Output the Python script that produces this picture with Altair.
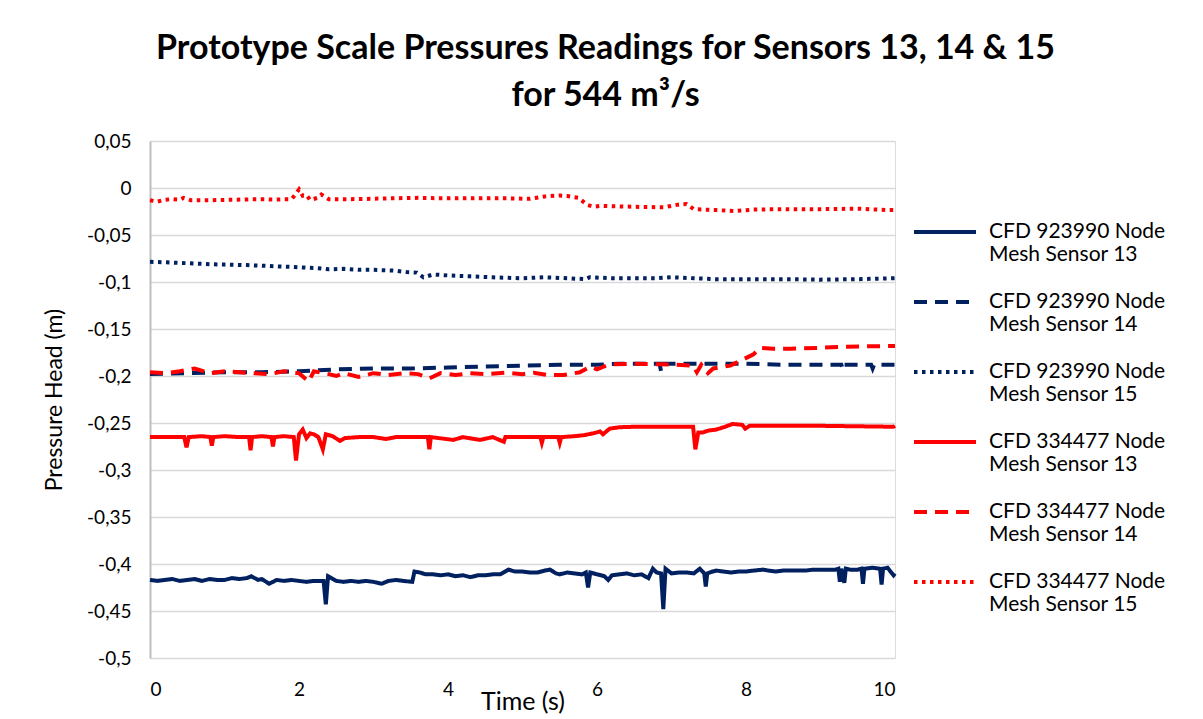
import altair as alt
import pandas as pd

# ---------------- data ----------------
SERIES = [
    "CFD 923990 Node Mesh Sensor 13",
    "CFD 923990 Node Mesh Sensor 14",
    "CFD 923990 Node Mesh Sensor 15",
    "CFD 334477 Node Mesh Sensor 13",
    "CFD 334477 Node Mesh Sensor 14",
    "CFD 334477 Node Mesh Sensor 15",
]
COLORS = ["#002060", "#002060", "#002060", "#FF0000", "#FF0000", "#FF0000"]

# CFD 923990 - Sensor 13 (navy solid)
t_b13 = [0, 0.1, 0.2, 0.3, 0.4, 0.5, 0.6, 0.7, 0.8, 0.9, 1.0, 1.1, 1.2, 1.3, 1.36, 1.45, 1.5, 1.6, 1.7, 1.8,
         1.9, 2.0, 2.1, 2.2, 2.33, 2.36, 2.39, 2.5, 2.6, 2.7, 2.8, 2.9, 3.0, 3.11, 3.2, 3.3, 3.4, 3.52, 3.55, 3.62,
         3.7, 3.8, 3.9, 4.0, 4.1, 4.2, 4.3, 4.4, 4.5, 4.6, 4.7, 4.81, 4.9, 5.0, 5.1, 5.2, 5.3, 5.37, 5.45, 5.5,
         5.6, 5.7, 5.8, 5.85, 5.88, 5.91, 6.0, 6.1, 6.15, 6.2, 6.3, 6.4, 6.5, 6.6, 6.69, 6.75, 6.8, 6.86, 6.89, 6.92,
         7.0, 7.1, 7.2, 7.3, 7.38, 7.44, 7.46, 7.48, 7.55, 7.6, 7.7, 7.8, 7.9, 8.0, 8.1, 8.23, 8.3, 8.4, 8.5, 8.6,
         8.7, 8.8, 8.9, 9.0, 9.1, 9.2, 9.24, 9.26, 9.28, 9.32, 9.34, 9.4, 9.5, 9.55, 9.57, 9.59, 9.7, 9.8, 9.82, 9.84,
         9.9, 9.98, 10.0]
v_b13 = [-0.417, -0.418, -0.417, -0.416, -0.418, -0.417, -0.416, -0.418, -0.416, -0.417, -0.417, -0.415, -0.416, -0.415, -0.413, -0.417, -0.416, -0.421, -0.417, -0.418,
         -0.417, -0.418, -0.419, -0.418, -0.418, -0.443, -0.413, -0.418, -0.419, -0.418, -0.419, -0.418, -0.419, -0.421, -0.418, -0.417, -0.418, -0.419, -0.408, -0.409,
         -0.411, -0.411, -0.412, -0.411, -0.413, -0.412, -0.414, -0.412, -0.412, -0.411, -0.411, -0.406, -0.408, -0.408, -0.409, -0.409, -0.407, -0.406, -0.410, -0.411,
         -0.409, -0.410, -0.411, -0.409, -0.425, -0.409, -0.411, -0.413, -0.417, -0.412, -0.411, -0.410, -0.412, -0.411, -0.415, -0.405, -0.409, -0.410, -0.448, -0.405,
         -0.410, -0.409, -0.409, -0.410, -0.405, -0.410, -0.424, -0.410, -0.408, -0.407, -0.408, -0.409, -0.408, -0.408, -0.407, -0.406, -0.407, -0.408, -0.407, -0.407,
         -0.407, -0.407, -0.406, -0.406, -0.406, -0.406, -0.405, -0.419, -0.405, -0.420, -0.405, -0.406, -0.406, -0.405, -0.421, -0.405, -0.404, -0.405, -0.422, -0.405,
         -0.404, -0.412, -0.410]

# CFD 923990 - Sensor 14 (navy dashed)
t_b14 = [0, 0.5, 1.0, 1.5, 2.0, 2.5, 3.0, 3.5, 4.0, 4.5, 5.0, 5.5, 6.0, 6.3, 6.84, 6.86, 6.88, 7.5, 8.0, 8.5,
         9.0, 9.28, 9.3, 9.32, 9.68, 9.7, 9.72, 10.0]
v_b14 = [-0.198, -0.197, -0.196, -0.196, -0.195, -0.193, -0.192, -0.192, -0.191, -0.190, -0.189, -0.188, -0.188, -0.187, -0.187, -0.195, -0.187, -0.187, -0.187, -0.188,
         -0.188, -0.188, -0.193, -0.188, -0.188, -0.192, -0.188, -0.188]

# CFD 923990 - Sensor 15 (navy dotted)
t_b15 = [0, 0.2, 0.5, 0.8, 1.0, 1.3, 1.6, 1.9, 2.2, 2.4, 2.6, 2.8, 3.0, 3.3, 3.45, 3.58, 3.67, 3.8, 4.0, 4.3,
         4.6, 5.0, 5.3, 5.6, 5.85, 5.9, 6.2, 6.5, 6.8, 7.0, 7.3, 7.6, 8.0, 8.5, 9.0, 9.5, 10.0]
v_b15 = [-0.0785, -0.079, -0.080, -0.081, -0.0815, -0.082, -0.083, -0.084, -0.085, -0.0865, -0.086, -0.087, -0.087, -0.088, -0.0895, -0.090, -0.095, -0.092, -0.093, -0.094,
         -0.095, -0.096, -0.095, -0.096, -0.097, -0.095, -0.096, -0.096, -0.096, -0.095, -0.096, -0.097, -0.097, -0.097, -0.0975, -0.097, -0.096]

# CFD 334477 - Sensor 13 (red solid)
t_r13 = [0, 0.2, 0.46, 0.49, 0.52, 0.7, 0.81, 0.83, 0.85, 1.0, 1.2, 1.33, 1.35, 1.37, 1.5, 1.63, 1.65, 1.67, 1.8, 1.93,
         1.96, 2.0, 2.05, 2.1, 2.15, 2.2, 2.26, 2.32, 2.36, 2.45, 2.55, 2.62, 2.8, 3.0, 3.17, 3.3, 3.5, 3.73, 3.75, 3.77,
         4.07, 4.2, 4.43, 4.6, 4.75, 4.77, 5.0, 5.24, 5.26, 5.28, 5.48, 5.5, 5.52, 5.7, 5.82, 5.95, 6.04, 6.08, 6.17, 6.3,
         6.5, 7.0, 7.29, 7.32, 7.36, 7.42, 7.5, 7.6, 7.72, 7.82, 7.95, 7.99, 8.05, 8.5, 9.0, 9.5, 9.98, 10.0]
v_r13 = [-0.265, -0.265, -0.265, -0.276, -0.265, -0.264, -0.265, -0.274, -0.265, -0.264, -0.265, -0.265, -0.279, -0.265, -0.264, -0.265, -0.275, -0.265, -0.264, -0.265,
         -0.290, -0.262, -0.257, -0.266, -0.261, -0.262, -0.265, -0.278, -0.262, -0.264, -0.269, -0.266, -0.265, -0.265, -0.267, -0.265, -0.265, -0.265, -0.278, -0.265,
         -0.268, -0.265, -0.268, -0.265, -0.270, -0.265, -0.265, -0.265, -0.271, -0.265, -0.265, -0.271, -0.265, -0.264, -0.263, -0.261, -0.259, -0.262, -0.256, -0.2545,
         -0.254, -0.254, -0.254, -0.278, -0.260, -0.260, -0.258, -0.257, -0.254, -0.251, -0.252, -0.256, -0.253, -0.253, -0.253, -0.2535, -0.254, -0.253]

# CFD 334477 - Sensor 14 (red dashed)
t_r14 = [0, 0.2, 0.4, 0.6, 0.8, 1.0, 1.2, 1.4, 1.6, 1.8, 2.0, 2.13, 2.2, 2.4, 2.5, 2.6, 2.8, 3.0, 3.2, 3.4,
         3.6, 3.75, 3.9, 4.1, 4.3, 4.5, 4.77, 5.0, 5.15, 5.35, 5.55, 5.7, 5.77, 5.91, 6.0, 6.17, 6.5, 6.85, 7.07, 7.29,
         7.34, 7.4, 7.49, 7.56, 7.7, 7.79, 7.92, 8.1, 8.19, 8.37, 8.6, 9.0, 9.3, 9.6, 10.0]
v_r14 = [-0.196, -0.197, -0.195, -0.192, -0.197, -0.195, -0.196, -0.197, -0.198, -0.195, -0.197, -0.206, -0.195, -0.198, -0.200, -0.197, -0.201, -0.197, -0.199, -0.197,
         -0.198, -0.2025, -0.197, -0.199, -0.197, -0.198, -0.1965, -0.198, -0.1965, -0.199, -0.199, -0.197, -0.196, -0.190, -0.193, -0.1875, -0.187, -0.1875, -0.188, -0.189,
         -0.196, -0.188, -0.197, -0.192, -0.190, -0.189, -0.184, -0.177, -0.170, -0.171, -0.171, -0.170, -0.169, -0.1685, -0.168]

# CFD 334477 - Sensor 15 (red dotted)
t_r15 = [0, 0.1, 0.2, 0.3, 0.4, 0.45, 0.55, 0.8, 1.1, 1.4, 1.7, 1.9, 1.95, 2.0, 2.05, 2.1, 2.15, 2.25, 2.3, 2.4,
         2.8, 3.2, 3.6, 4.0, 4.4, 4.8, 5.1, 5.3, 5.5, 5.6, 5.75, 5.87, 5.96, 6.05, 6.5, 6.9, 7.1, 7.2, 7.3, 7.6,
         7.85, 8.1, 8.5, 9.0, 9.5, 9.9, 10.0]
v_r15 = [-0.013, -0.0145, -0.0125, -0.0118, -0.0125, -0.0105, -0.013, -0.013, -0.0125, -0.012, -0.0122, -0.0118, -0.007, -0.0015, -0.0082, -0.0075, -0.0128, -0.0105, -0.007, -0.012,
         -0.0118, -0.011, -0.0105, -0.011, -0.011, -0.011, -0.0115, -0.009, -0.008, -0.0085, -0.0105, -0.018, -0.020, -0.019, -0.020, -0.0205, -0.0175, -0.017, -0.0225, -0.0235,
         -0.0245, -0.023, -0.0225, -0.0225, -0.022, -0.0235, -0.0235]

Y_TICKS = [0.05, 0, -0.05, -0.1, -0.15, -0.2, -0.25, -0.3, -0.35, -0.4, -0.45, -0.5]
X_TICKS = [0, 2, 4, 6, 8, 10]
TITLE = ["Prototype Scale Pressures Readings for Sensors 13, 14 & 15", "for 544 m\u00b3/s"]

# ---------------- build table ----------------
pairs = [(t_b13, v_b13), (t_b14, v_b14), (t_b15, v_b15), (t_r13, v_r13), (t_r14, v_r14), (t_r15, v_r15)]
rows = []
for name, (ts, vs) in zip(SERIES, pairs):
    for t, v in zip(ts, vs):
        rows.append({"series": name, "time": t, "value": v})
df = pd.DataFrame(rows)

DASHES = [[1, 0], [13, 8], [3.5, 4.5], [1, 0], [13, 8], [3.5, 4.5]]

FONT = "Lato"
legend = alt.Legend(
    orient="none", legendX=762, legendY=58, title=None,
    symbolType="stroke", symbolSize=3844, symbolStrokeWidth=4,
    labelFont=FONT, labelFontSize=21, labelColor="#000000", labelLimit=400,
    labelOffset=11, rowPadding=4,
    labelExpr="[slice(datum.label, 0, 15), slice(datum.label, 16)]",
)

chart = alt.Chart(df).mark_line(strokeWidth=4, strokeCap="butt").encode(
    x=alt.X("time:Q", scale=alt.Scale(domain=[0, 10], nice=False),
            axis=alt.Axis(values=X_TICKS, title="Time (s)", grid=False, domain=False, ticks=False,
                          labelPadding=22, labelFontSize=19, labelFont=FONT, labelColor="#000000",
                          titleFont=FONT, titleFontSize=25, titleFontWeight="normal", titleColor="#000000",
                          titleY=31)),
    y=alt.Y("value:Q", scale=alt.Scale(domain=[-0.5, 0.05], nice=False, zero=False),
            axis=alt.Axis(values=Y_TICKS, title="Pressure Head (m)", grid=True, gridColor="#d9d9d9",
                          gridWidth=1.5, domain=True, domainColor="#bfbfbf", domainWidth=2, ticks=False,
                          labelPadding=19, labelFontSize=19, labelFont=FONT, labelColor="#000000",
                          labelExpr="replace(toString(round(datum.value*100)/100), '.', ',')",
                          titleFont=FONT, titleFontSize=23, titleFontWeight="normal", titleColor="#000000",
                          titleX=-84)),
    color=alt.Color("series:N", scale=alt.Scale(domain=SERIES, range=COLORS), legend=legend),
    strokeDash=alt.StrokeDash("series:N", scale=alt.Scale(domain=SERIES, range=DASHES), legend=legend),
    detail="series:N",
).properties(
    width=745, height=517,
    title=alt.TitleParams(TITLE, anchor="middle", frame="group", dx=83, font=FONT, fontSize=34,
                          fontWeight="bold", color="#000000", lineHeight=47, offset=19),
    padding={"left": 150, "top": 141, "right": 308, "bottom": 61},
    autosize=alt.AutoSizeParams(type="none"),
).configure_view(stroke=None).configure(background="white")

chart.save("out.html", embed_options={"renderer": "svg", "actions": False})
